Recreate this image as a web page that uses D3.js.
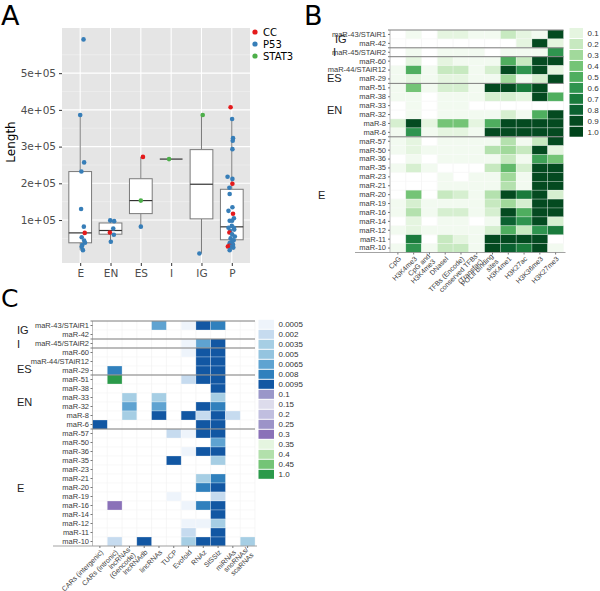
<!DOCTYPE html>
<html>
<head>
<meta charset="utf-8">
<script src="https://cdn.jsdelivr.net/npm/d3@7"></script>
<style>
body { margin: 0; background: #fff; }
text { font-family: "Liberation Sans", Arial, sans-serif; }
</style>
</head>
<body>
<div id="chart-area"></div>
<script>

// ---------- Panel A data: [length, TF, jitter (fraction of category step)]
var catsA = ["E", "EN", "ES", "I", "IG", "P"];
var tfNames = ["CC", "P53", "STAT3"];
var tfColors = ["#e41a1c", "#377eb8", "#4daf4a"];

var ptsE = [[592000,"P53",0.11],[386000,"P53",0],[257000,"P53",0.13],[232000,"P53",0.04],[130000,"P53",0.03],
	[82000,"P53",0.12],[65000,"CC",0.15],[53000,"P53",0.05],[44000,"P53",0.13],[38000,"P53",0.16],
	[32000,"P53",0.07],[27000,"P53",0.05],[18000,"P53",0.09]];
var ptsEN = [[99000,"P53",-0.01],[97000,"P53",0.12],[77000,"P53",0.09],[66000,"CC",-0.02],[60000,"P53",0.11],[41000,"P53",0.01]];
var ptsES = [[272000,"CC",0.07],[153000,"STAT3",0],[82000,"P53",0]];
var ptsI = [[266000,"STAT3",-0.07]];
var ptsIG = [[386000,"STAT3",0.04],[9000,"P53",-0.07]];
var ptsP = [[407000,"CC",-0.04],[375000,"P53",0.01],[323000,"P53",0.04],[316000,"P53",0.03],[293000,"P53",0.02],
	[218000,"P53",-0.14],[212000,"P53",0.02],[199000,"CC",0.02],[188000,"P53",-0.08],[171000,"P53",-0.07],
	[135000,"P53",0.02],[125000,"P53",-0.11],[117000,"CC",0.04],[105000,"P53",0.07],[98000,"P53",-0.07],
	[98000,"P53",0.01],[84000,"P53",0],[79000,"P53",0.07],[79000,"P53",-0.11],[74000,"P53",0.08],
	[70000,"P53",-0.05],[66000,"CC",-0.08],[61000,"P53",0.01],[55000,"P53",0.1],[50000,"P53",-0.04],
	[45000,"P53",0.06],[41000,"P53",0.01],[37000,"P53",-0.07],[33000,"P53",0.04],[30000,"CC",-0.08],
	[28000,"P53",-0.04],[28000,"CC",-0.13],[25000,"P53",0.05],[18000,"P53",-0.07]];
var ptsA = [ptsE, ptsEN, ptsES, ptsI, ptsIG, ptsP];
var yTicksA = [100000, 200000, 300000, 400000, 500000];

// ---------- Panels B and C shared rows / groups
var rowsB = ["maR-43/STAiR1","maR-42","maR-45/STAiR2","maR-60","maR-44/STAiR12","maR-29","maR-51","maR-38",
	"maR-33","maR-32","maR-8","maR-6","maR-57","maR-50","maR-36","maR-35","maR-23","maR-21","maR-20",
	"maR-19","maR-16","maR-14","maR-12","maR-11","maR-10"];
var groupNames = ["IG", "I", "ES", "EN", "E"];
var groupSizes = [2, 1, 3, 6, 13];

// ---------- Panel B data
var colsB = ["CpG","H3K4me3","CpG and\nH3K4me3","DNaseI","TFBs (Encode)","conserved TFBs\n(Transfac)",
	"POLII binding\nsites","H3K4me1","H3K27ac","H3K36me3","H3K27me3"];
var valsB = [
	[0,0.05,0,0.1,0.1,0.05,0.05,0.2,0.1,0.05,0.9],
	[0,0,0,0,0,0,0,0,0.1,0.9,0.1],
	[0,0.05,0,0.05,0.05,0.05,0,0.05,0.05,0.05,0.6],
	[0,0.1,0,0.1,0.05,0.05,0.05,0.5,0.2,0.9,0.9],
	[0.05,0.5,0.05,0.2,0.2,0.05,0.15,0.9,0.6,0.9,0.1],
	[0.05,0.1,0.05,0.1,0.1,0.05,0.05,0.3,0.05,0.15,0.9],
	[0.05,0.4,0.05,0.15,0.15,0.05,0.9,0.9,0.7,0.9,0],
	[0.05,0.05,0,0.05,0.05,0.05,0.15,0.15,0.1,0.9,0.5],
	[0,0.05,0,0.05,0.05,0,0,0,0,0,0],
	[0,0.05,0,0.05,0.05,0.05,0.05,0.15,0.05,0.5,0.9],
	[0.15,0.9,0.1,0.4,0.4,0.1,0.5,0.9,0.9,0.9,0.9],
	[0.05,0.6,0.05,0.1,0.1,0.05,0.9,0.9,0.9,0.9,0.9],
	[0.05,0.1,0,0.05,0.05,0.05,0.05,0.25,0.05,0.2,0.9],
	[0.05,0.1,0.05,0.05,0.05,0.05,0.25,0.3,0.2,0.9,0.1],
	[0,0.05,0,0.05,0.05,0.05,0.05,0.2,0.05,0.55,0.4],
	[0.05,0.15,0.05,0,0,0,0.2,0.45,0.15,0.9,0.9],
	[0,0,0,0.05,0,0.05,0.05,0.3,0.05,0.9,0.9],
	[0,0,0,0.05,0.05,0.05,0.05,0.25,0.05,0.9,0.9],
	[0,0.4,0,0.2,0.15,0.05,0.25,0.9,0.7,0.9,0.15],
	[0.05,0.15,0.05,0.05,0.05,0.05,0.2,0.3,0.15,0.9,0.9],
	[0.05,0.25,0.05,0.15,0.15,0.05,0.15,0.9,0.5,0.9,0.9],
	[0,0.1,0,0.05,0.05,0,0.05,0.8,0.6,0.9,0.15],
	[0.05,0.1,0.05,0.05,0.05,0.05,0.15,0.5,0.2,0.6,0.7],
	[0,0.7,0,0.2,0.1,0.05,0.9,0.9,0.9,0.9,0],
	[0.05,0.6,0.05,0.2,0.2,0.05,0.9,0.8,0.7,0.9,0.05]
];
var legendB = [0.1,0.2,0.3,0.4,0.5,0.6,0.7,0.8,0.9,1.0];
var greensB = ["#e5f5e0","#c7e9c0","#a1d99b","#74c476","#4fae5f","#2f944f","#1a7b3c","#0b6130","#044a20","#00441b"];

// ---------- Panel C data (0 = empty cell)
var colsC = ["CARs (intergenic)","CARs (intronic)","lncRNAs\n(Gencode)","lncRNAdb","lincRNAs","TUCP",
	"Evofold","RNAz","SISSIz","miRNAs","snoRNAs/\nscaRNAs"];
var valsC = [
	[0,0,0,0,0.0065,0,0.0005,0.0095,0.008,0,0],
	[0,0,0,0,0,0,0,0,0,0,0],
	[0,0,0,0,0,0,0.0005,0.0065,0.0095,0,0],
	[0,0,0,0,0,0,0.0005,0.0095,0.0095,0,0],
	[0,0,0,0,0,0,0,0.0095,0.0095,0,0],
	[0,0.008,0,0,0,0,0,0.0095,0.0095,0,0],
	[0,1.0,0,0,0,0,0.002,0.0095,0.0095,0,0],
	[0,0,0,0,0,0,0,0,0.0095,0,0],
	[0,0,0.0035,0,0.0035,0,0,0,0.0035,0,0],
	[0,0,0.0065,0,0.0065,0,0,0.0095,0.008,0,0],
	[0,0,0.0035,0,0.0095,0,0.0095,0.002,0.0095,0.002,0],
	[0.0095,0,0,0,0,0,0,0.0095,0.0095,0,0],
	[0,0,0,0,0,0.002,0.0005,0.0095,0.0095,0,0],
	[0,0,0,0,0,0,0,0,0.0065,0,0],
	[0,0,0,0,0,0,0.0005,0.0095,0.0095,0,0],
	[0,0,0,0,0,0.0095,0,0,0.0035,0,0],
	[0,0,0,0,0,0,0,0,0,0,0],
	[0,0,0,0,0,0,0,0.0035,0.008,0,0],
	[0,0,0,0,0,0,0,0.008,0.0095,0,0],
	[0,0,0,0,0,0.0005,0,0,0.002,0,0],
	[0,0.3,0,0,0,0,0.0005,0.008,0.0095,0,0],
	[0,0,0,0,0,0,0,0,0.0095,0,0],
	[0,0,0,0,0,0,0.0005,0.0005,0.0035,0,0],
	[0,0,0,0,0,0,0.002,0,0.0095,0,0],
	[0,0.002,0,0.0095,0,0,0.0035,0.0095,0.0095,0,0.0035]
];
var legendC = ["0.0005","0.002","0.0035","0.005","0.0065","0.008","0.0095","0.1","0.15","0.2","0.25",
	"0.3","0.35","0.4","0.45","1.0"];
var paletteC = ["#eef4fb","#c6dbef","#a6cee4","#94c4df","#5fa3d1","#3080bd","#1257a3","#9a97c9","#dddcec",
	"#c0bedf","#9c93c8","#8a71b8","#e5f5e0","#b2e0ab","#74c476","#2b9a4a"];


var svg = d3.select("#chart-area").append("svg")
	.attr("width", 600)
	.attr("height", 591);

// panel letters
svg.append("text").attr("x", 1).attr("y", 25).style("font-family", "DejaVu Sans").style("font-size", "27px").text("A");
svg.append("text").attr("x", 304).attr("y", 25).style("font-family", "DejaVu Sans").style("font-size", "27px").text("B");
svg.append("text").attr("x", 1).attr("y", 307).style("font-family", "DejaVu Sans").style("font-size", "25px").text("C");

// ================= PANEL A =================
var A = {left: 62, right: 250, top: 28, bottom: 263};
var xA = d3.scalePoint().domain(catsA).range([A.left, A.right]).padding(0.6);
var yA = d3.scaleLinear().domain([-17000, 623000]).range([A.bottom, A.top]);
var colA = d3.scaleOrdinal().domain(tfNames).range(tfColors);
var step = xA.step();

var gA = svg.append("g").style("font-family", "DejaVu Sans");
gA.append("rect")
	.attr("x", A.left).attr("y", A.top)
	.attr("width", A.right - A.left).attr("height", A.bottom - A.top)
	.attr("fill", "#e5e5e5");

// minor grid
gA.selectAll(".minor").data(d3.range(50000, 600001, 100000)).enter().append("line")
	.attr("x1", A.left).attr("x2", A.right)
	.attr("y1", function(d){ return yA(d); }).attr("y2", function(d){ return yA(d); })
	.attr("stroke", "#f2f2f2").attr("stroke-width", 0.6);
// major grid
gA.selectAll(".major").data(yTicksA).enter().append("line")
	.attr("x1", A.left).attr("x2", A.right)
	.attr("y1", function(d){ return yA(d); }).attr("y2", function(d){ return yA(d); })
	.attr("stroke", "#fff").attr("stroke-width", 1.1);
gA.selectAll(".vgrid").data(catsA).enter().append("line")
	.attr("x1", function(d){ return xA(d); }).attr("x2", function(d){ return xA(d); })
	.attr("y1", A.top).attr("y2", A.bottom)
	.attr("stroke", "#fff").attr("stroke-width", 1.1);

// axes
var yAxisA = gA.append("g").attr("transform", "translate(" + A.left + ",0)")
	.call(d3.axisLeft(yA).tickValues(yTicksA).tickSize(3).tickPadding(3)
		.tickFormat(function(d){ return (d / 100000) + "e+05"; }));
var xAxisA = gA.append("g").attr("transform", "translate(0," + A.bottom + ")")
	.call(d3.axisBottom(xA).tickSize(3).tickPadding(4));
[yAxisA, xAxisA].forEach(function(ax){
	ax.select(".domain").remove();
	ax.selectAll("line").attr("stroke", "#333");
	ax.selectAll("text").attr("fill", "#4d4d4d").style("font-size", "10.5px").style("font-family", "DejaVu Sans");
});

gA.append("text")
	.attr("transform", "translate(15,142) rotate(-90)")
	.attr("text-anchor", "middle")
	.style("font-family", "DejaVu Sans").style("font-size", "12px")
	.text("Length");

// boxplots
ptsA.forEach(function(pts, i){
	var cx = xA(catsA[i]);
	var v = pts.map(function(p){ return p[0]; }).sort(d3.ascending);
	var q1 = d3.quantile(v, 0.25), med = d3.quantile(v, 0.5), q3 = d3.quantile(v, 0.75);
	var iqr = q3 - q1;
	var lo = d3.min(v.filter(function(d){ return d >= q1 - 1.5 * iqr; }));
	var hi = d3.max(v.filter(function(d){ return d <= q3 + 1.5 * iqr; }));
	var bw = step * 0.75;
	gA.append("line").attr("x1", cx).attr("x2", cx).attr("y1", yA(q3)).attr("y2", yA(hi))
		.attr("stroke", "#7a7a7a").attr("stroke-width", 1);
	gA.append("line").attr("x1", cx).attr("x2", cx).attr("y1", yA(q1)).attr("y2", yA(lo))
		.attr("stroke", "#7a7a7a").attr("stroke-width", 1);
	gA.append("rect").attr("x", cx - bw / 2).attr("width", bw)
		.attr("y", yA(q3)).attr("height", yA(q1) - yA(q3))
		.attr("fill", "#fff").attr("stroke", "#7a7a7a").attr("stroke-width", 1);
	gA.append("line").attr("x1", cx - bw / 2).attr("x2", cx + bw / 2).attr("y1", yA(med)).attr("y2", yA(med))
		.attr("stroke", "#333").attr("stroke-width", 1.2);
});

// points
ptsA.forEach(function(pts, i){
	gA.selectAll(".pt" + i).data(pts).enter().append("circle")
		.attr("cx", function(d){ return xA(catsA[i]) + d[2] * step; })
		.attr("cy", function(d){ return yA(d[0]); })
		.attr("r", 2.3)
		.attr("fill", function(d){ return colA(d[1]); });
});

// legend
var legA = gA.selectAll(".legA").data(tfNames).enter().append("g")
	.attr("transform", function(d, i){ return "translate(255," + (32 + i * 12) + ")"; });
legA.append("circle").attr("r", 2.6).attr("fill", function(d){ return colA(d); });
legA.append("text").attr("x", 8).attr("y", 3.6).style("font-size", "10px").style("font-family", "DejaVu Sans")
	.text(function(d){ return d; });

// ================= HEATMAPS =================
function heatmap(opt) {
	var g = svg.append("g");
	var x = d3.scaleBand().domain(d3.range(opt.cols.length)).range([opt.left, opt.right]);
	var y = d3.scaleBand().domain(rowsB).range([opt.top, opt.bottom]);

	// faint grid
	g.selectAll(".vg").data(d3.range(opt.cols.length + 1)).enter().append("line")
		.attr("x1", function(d){ return opt.left + d * x.bandwidth(); })
		.attr("x2", function(d){ return opt.left + d * x.bandwidth(); })
		.attr("y1", opt.top).attr("y2", opt.bottom)
		.attr("stroke", "#f0f0f0").attr("stroke-width", 0.6);
	g.selectAll(".hg").data(rowsB).enter().append("line")
		.attr("x1", opt.left).attr("x2", opt.right)
		.attr("y1", function(d){ return y(d) + y.bandwidth(); })
		.attr("y2", function(d){ return y(d) + y.bandwidth(); })
		.attr("stroke", "#f4f4f4").attr("stroke-width", 0.6);

	// cells
	var cells = [];
	opt.vals.forEach(function(row, r){
		row.forEach(function(v, c){ if (v > 0) cells.push({r: rowsB[r], c: c, v: v}); });
	});
	g.selectAll(".cell").data(cells).enter().append("rect")
		.attr("x", function(d){ return x(d.c); })
		.attr("y", function(d){ return y(d.r); })
		.attr("width", x.bandwidth()).attr("height", y.bandwidth())
		.attr("fill", function(d){ return opt.color(d.v); })
		.attr("stroke", "rgba(255,255,255,0.45)").attr("stroke-width", 0.6);

	// axes lines
	g.append("line").attr("x1", opt.left).attr("x2", opt.left).attr("y1", opt.top).attr("y2", opt.bottom)
		.attr("stroke", "#b0b0b0").attr("stroke-width", 0.8);
	g.append("line").attr("x1", opt.axisStart).attr("x2", opt.right + 2).attr("y1", opt.bottom).attr("y2", opt.bottom)
		.attr("stroke", "#999").attr("stroke-width", 0.9);

	// group separators
	var bounds = [0];
	groupSizes.forEach(function(s, k){ bounds.push(bounds[k] + s); });
	g.selectAll(".sep").data(bounds.slice(0, bounds.length - 1)).enter().append("line")
		.attr("x1", opt.left - 2).attr("x2", opt.right)
		.attr("y1", function(d){ return opt.top + d * y.step(); })
		.attr("y2", function(d){ return opt.top + d * y.step(); })
		.attr("stroke", "#7d7d7d").attr("stroke-width", 1);

	// row labels
	var ax = g.append("g").attr("transform", "translate(" + opt.left + ",0)")
		.call(d3.axisLeft(y).tickSize(2).tickPadding(opt.pad));
	ax.select(".domain").remove();
	ax.selectAll("line").attr("stroke", "#777");
	ax.selectAll("text").attr("fill", "#3a3a3a").style("font-size", "7.5px")
		.style("font-family", "Liberation Sans, Arial, sans-serif");

	// group labels
	groupNames.forEach(function(name, k){
		var mid = opt.top + (bounds[k] + groupSizes[k] / 2) * y.step();
		if (name == "ES") { mid = mid + 7.5; }  // sits below the long maR-44 label
		g.append("text").attr("x", opt.groupX + (opt.groupDx[name] || 0)).attr("y", mid + 4)
			.style("font-size", "11px").attr("fill", "#222").text(name);
	});

	// column ticks and labels
	g.selectAll(".ct").data(opt.cols).enter().append("line")
		.attr("x1", function(d, i){ return x(i) + x.bandwidth() / 2; })
		.attr("x2", function(d, i){ return x(i) + x.bandwidth() / 2; })
		.attr("y1", opt.bottom).attr("y2", opt.bottom + 2)
		.attr("stroke", "#777");
	g.selectAll(".cl").data(opt.cols).enter().append("text")
		.attr("transform", function(d, i){
			return "translate(" + (x(i) + x.bandwidth() / 2 + 2) + "," + (opt.bottom + 5) + ") rotate(-45)";
		})
		.attr("text-anchor", "end")
		.attr("fill", "#3a3a3a")
		.style("font-size", "7px")
		.each(function(d){
			var lines = d.split("\n");
			var t = d3.select(this);
			lines.forEach(function(l, k){
				t.append("tspan").attr("x", 0)
					.attr("dy", k == 0 ? (lines.length > 1 ? "-0.15em" : "0.35em") : "1.05em")
					.text(l);
			});
		});

	// legend
	var lg = g.selectAll(".lg").data(opt.legend).enter().append("g")
		.attr("transform", function(d, i){ return "translate(" + opt.legX + "," + (opt.legY + i * opt.legStep) + ")"; });
	lg.append("rect").attr("x", 0).attr("y", -opt.legH / 2)
		.attr("width", opt.legW).attr("height", opt.legH)
		.attr("fill", function(d){ return opt.color(+d); });
	lg.append("text").attr("x", opt.legW + 4.5).attr("y", 3)
		.style("font-size", "8px").attr("fill", "#333")
		.text(function(d){ return d; });
}

var colorB = d3.scaleLinear().domain([0].concat(legendB)).range(["#ffffff"].concat(greensB));
heatmap({
	cols: colsB, vals: valsB, color: colorB,
	left: 390, right: 563.5, top: 30, bottom: 252.5, axisStart: 355, pad: 2,
	groupX: 327, groupDx: {IG: 8, I: 6, E: -9},
	legend: legendB.map(function(d){ return d == 1 ? "1.0" : String(d); }),
	legX: 569.5, legY: 33, legStep: 10.97, legW: 13.5, legH: 10
});

var colorCmap = d3.scaleOrdinal().domain(legendC).range(paletteC);
var colorC = function(v){ return colorCmap(v == 1 ? "1.0" : String(v)); };
heatmap({
	cols: colsC, vals: valsC, color: colorC,
	left: 92.5, right: 255, top: 321, bottom: 546, axisStart: 53, pad: 1.5,
	groupX: 17, groupDx: {},
	legend: legendC,
	legX: 258.5, legY: 324.3, legStep: 10, legW: 15.5, legH: 9
});

</script>
</body>
</html>
